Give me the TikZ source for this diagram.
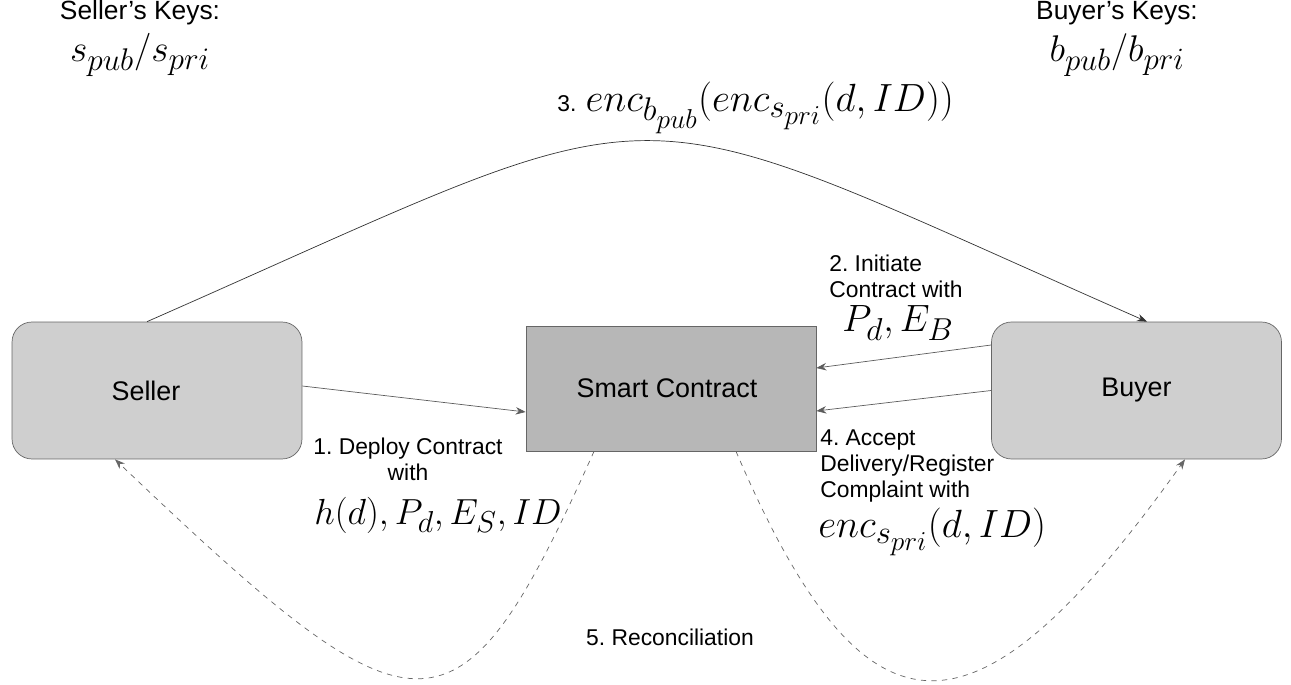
\documentclass[tikz,border=0pt]{standalone}
\usepackage{fontspec}
\setmainfont{Liberation Sans}
\usetikzlibrary{arrows.meta,positioning}
\frenchspacing

\definecolor{partyfill}{HTML}{CFCFCF}
\definecolor{contractfill}{HTML}{B7B7B7}
\definecolor{edgegray}{HTML}{666666}

\newcommand{\txtfont}{\fontsize{13}{14.8}\selectfont}
\newcommand{\boxfont}{\fontsize{15.3}{18}\selectfont}
\newcommand{\keyfont}{\fontsize{15}{18}\selectfont}
\newcommand{\mathfont}{\fontsize{24.88}{28}\selectfont}
\newcommand{\bigmath}[2][0.9]{\scalebox{#1}{\mathfont$#2$}}

\begin{document}
\begin{tikzpicture}[x=0.02cm, y=-0.02cm,
    party/.style={draw=edgegray, fill=partyfill, rounded corners=0.4cm,
        minimum width=5.8cm, minimum height=2.74cm, font=\boxfont},
    contract/.style={draw=edgegray, fill=contractfill,
        minimum width=5.8cm, minimum height=2.5cm, font=\boxfont},
    lbl/.style={inner sep=0pt, font=\txtfont},
    frm/.style={inner sep=0pt},
    msg/.style={draw=edgegray!90!black, -{Stealth[length=2mm,width=1.5mm]}},
    recon/.style={draw=edgegray, dashed, -{Stealth[length=2mm,width=1.5mm]}}]
    \useasboundingbox (0,0) rectangle (1291,685);

    % parties and the contract
    \node[party] (seller) at (157,390.5) {Seller\hspace*{0.44cm}};
    \node[contract] (smart) at (671,388.5) {Smart Contract\hspace*{0.16cm}};
    \node[party] (buyer) at (1136.5,390.5) {Buyer};

    % keys
    \node[lbl, font=\keyfont] (sellerkeys) at (140,13) {Seller’s Keys:};
    \node[frm] (sellerpair) at (140,55) {\bigmath[0.86]{s_{pub}/s_{pri}}};
    \node[lbl, font=\keyfont] (buyerkeys) at (1117,13) {Buyer’s Keys:};
    \node[frm] (buyerpair) at (1117,55) {\bigmath[0.85]{b_{pub}/b_{pri}}};

    % step 1
    \draw[msg] ([yshift=0.09cm]seller.east) -- ([yshift=-0.47cm]smart.west);
    \node[lbl, align=center] (deploy) at (408,459) {1. Deploy Contract\\with};
    \node[frm, anchor=west] (deployargs) at (314,515) {\bigmath[0.83]{h(d), P_d, E_S, ID}};

    % step 2
    \draw[msg] ([yshift=0.91cm]buyer.west) -- ([yshift=0.41cm]smart.east);
    \node[lbl, align=left, anchor=west] (initiate) at (829,276) {2. Initiate\\Contract with};
    \node[frm] (initargs) at (898,323) {\bigmath[0.87]{P_d, E_B}};

    % step 3
    \draw[msg, draw=black!80] ([xshift=-0.2cm]seller.north)
        .. controls +(548,-241) and +(-548,-241) .. ([xshift=0.21cm]buyer.north);
    \node[lbl, anchor=west] (transfer) at (557,108)
        {3.\hspace{0.4em}\bigmath{enc_{b_{pub}}(enc_{s_{pri}}(d, ID))}};

    % step 4
    \draw[msg] (buyer.west) -- ([yshift=-0.45cm]smart.east);
    \node[lbl, align=left, anchor=west] (accept) at (820,466)
        {4. Accept\\Delivery/Register\\Complaint with};
    \node[frm, anchor=west] (acceptargs) at (818,532) {\bigmath{enc_{s_{pri}}(d, ID)}};

    % step 5
    \draw[recon] ([xshift=-1.54cm]smart.south)
        .. controls (458,755) and (420,750) .. ([xshift=-0.84cm]seller.south);
    \draw[recon] ([xshift=1.3cm]smart.south)
        .. controls (866,755) and (974,755) .. ([xshift=0.97cm]buyer.south);
    \node[lbl] (reconcile) at (670,637) {5. Reconciliation};
\end{tikzpicture}
\end{document}
